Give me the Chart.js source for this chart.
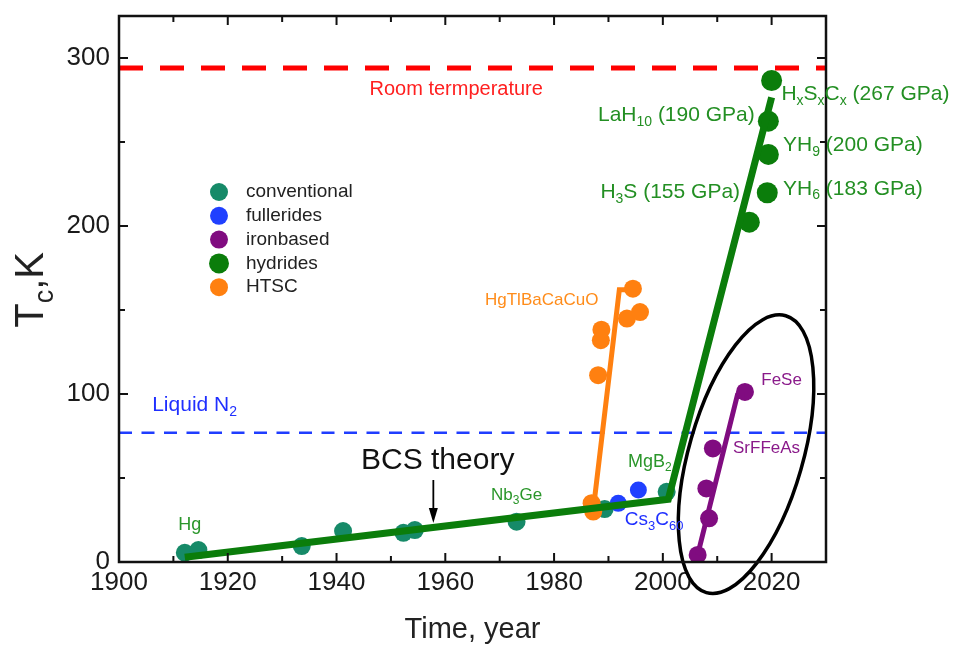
<!DOCTYPE html>
<html><head><meta charset="utf-8">
<script src="https://cdn.jsdelivr.net/npm/chart.js@4.4.1/dist/chart.umd.min.js"></script>
<style>html,body{margin:0;padding:0;background:#fff}#wrap{width:956px;height:648px}</style>
</head><body><div id="wrap"><canvas id="c" width="956" height="648"></canvas></div>
<script>
// ---------- data ----------
const xTickLabels = [1900, 1920, 1940, 1960, 1980, 2000, 2020];
const yTickLabels = [0, 100, 200, 300];
const seriesNames = ['conventional', 'fullerides', 'ironbased', 'hydrides', 'HTSC'];

const conventionalYears = [1912.1, 1914.6, 1933.6, 1941.2, 1952.3, 1954.4, 1973.1, 1989.3, 2000.7];
const conventionalTc    = [5.5, 7.1, 9.5, 18.4, 17.4, 19.0, 24.0, 31.5, 41.8];
const fulleridesYears   = [1991.8, 1995.5];
const fulleridesTc      = [34.9, 42.8];
const ironbasedYears    = [2006.4, 2008.5, 2008.0, 2009.2, 2015.1];
const ironbasedTc       = [4.2, 26.0, 43.8, 67.6, 101.2];
const hydridesYears     = [2015.9, 2019.2, 2019.4, 2019.4, 2020.0];
const hydridesTc        = [202.3, 219.8, 242.6, 262.4, 286.6];
const htscYears         = [1986.9, 1987.2, 1988.1, 1988.6, 1988.7, 1993.4, 1994.5, 1995.8];
const htscTc            = [35.0, 30.0, 111.2, 132.0, 138.3, 144.9, 162.7, 148.8];

const mainTrendYears = [1912.1, 2001.0, 2020.0];
const mainTrendTc    = [2.8, 37.3, 276.6];
const htscTrendYears = [1987.2, 1992.0, 1993.4];
const htscTrendTc    = [30.9, 162.1, 162.1];
const ironTrendYears = [2006.4, 2013.7, 2015.1];
const ironTrendTc    = [4.2, 99.3, 99.3];

const roomTemperatureK = 294;
const liquidN2K = 77;
const xRange = [1900, 2030];
const yRange = [0, 325];

// ---------- styling ----------
const FONT = '"Liberation Sans", Arial, Helvetica, sans-serif';
const COLORS = {
  conventional: '#168a68', fullerides: '#2040ff', ironbased: '#800c80',
  hydrides: '#0b7d0b', HTSC: '#ff8010'
};
const toPts = (xs, ys) => xs.map((x, i) => ({x: x, y: ys[i]}));

const annotations = [
  {text: 'Room termperature', year: 1962, tc: 281, align: 'center', color: '#ff2020', size: 20},
  {text: 'Liquid N_{2}', year: 1906.1, tc: 93.3, align: 'left', color: '#1f2fff', size: 21},
  {text: 'BCS theory', year: 1958.6, tc: 60, align: 'center', color: '#111', size: 30},
  {text: 'Hg', year: 1913, tc: 22, align: 'center', color: '#2a962a', size: 18},
  {text: 'Nb_{3}Ge', year: 1973.1, tc: 39.8, align: 'center', color: '#2a962a', size: 17},
  {text: 'MgB_{2}', year: 1993.6, tc: 59.5, align: 'left', color: '#2a962a', size: 18},
  {text: 'Cs_{3}C_{60}', year: 1993.0, tc: 25, align: 'left', color: '#1f2fff', size: 19},
  {text: 'HgTlBaCaCuO', year: 1967.3, tc: 155.8, align: 'left', color: '#ff8c1a', size: 17},
  {text: 'FeSe', year: 2018.1, tc: 108.2, align: 'left', color: '#8a1a8a', size: 17},
  {text: 'SrFFeAs', year: 2012.9, tc: 67.6, align: 'left', color: '#8a1a8a', size: 17},
  {text: 'H_{x}S_{x}C_{x} (267 GPa)', year: 2021.8, tc: 278.7, align: 'left', color: '#238f23', size: 21},
  {text: 'LaH_{10} (190 GPa)', year: 2016.9, tc: 265.8, align: 'right', color: '#238f23', size: 21},
  {text: 'YH_{9} (200 GPa)', year: 2022.1, tc: 247.9, align: 'left', color: '#238f23', size: 21},
  {text: 'YH_{6} (183 GPa)', year: 2022.1, tc: 222.2, align: 'left', color: '#238f23', size: 21},
  {text: 'H_{3}S (155 GPa)', year: 2014.2, tc: 220.2, align: 'right', color: '#238f23', size: 21}
];
const bcsArrow = {year: 1957.8, fromTc: 48.8, toTc: 23.2};
const ironEllipse = {year: 2015.3, tc: 64.2, rx: 57, ry: 144, rotDeg: 16};

// ---------- rich text ----------
function parseRich(s) {
  const parts = []; const re = /_\{([^}]*)\}/g; let last = 0, m;
  while ((m = re.exec(s))) {
    if (m.index > last) parts.push({t: s.slice(last, m.index), sub: false});
    parts.push({t: m[1], sub: true}); last = re.lastIndex;
  }
  if (last < s.length) parts.push({t: s.slice(last), sub: false});
  return parts;
}
function drawRich(ctx, s, x, y, size, color, align) {
  const parts = parseRich(s);
  const sub = Math.round(size * 0.68);
  let w = 0;
  parts.forEach(p => { ctx.font = (p.sub ? sub : size) + 'px ' + FONT; w += ctx.measureText(p.t).width; });
  let cx = align === 'center' ? x - w / 2 : align === 'right' ? x - w : x;
  ctx.save(); ctx.fillStyle = color; ctx.textBaseline = 'middle'; ctx.textAlign = 'left';
  parts.forEach(p => {
    ctx.font = (p.sub ? sub : size) + 'px ' + FONT;
    ctx.fillText(p.t, cx, y + (p.sub ? size * 0.33 : 0));
    cx += ctx.measureText(p.t).width;
  });
  ctx.restore();
}

// ---------- plugin for frame, ticks, labels, legend ----------
const decorPlugin = {
  id: 'decor',
  afterDatasetsDraw(chart) {
    const ctx = chart.ctx, xs = chart.scales.x, ys = chart.scales.y, a = chart.chartArea;
    ctx.save();
    // ellipse
    ctx.strokeStyle = '#000'; ctx.lineWidth = 3.5;
    ctx.beginPath();
    ctx.ellipse(xs.getPixelForValue(ironEllipse.year), ys.getPixelForValue(ironEllipse.tc),
      ironEllipse.rx, ironEllipse.ry, ironEllipse.rotDeg * Math.PI / 180, 0, Math.PI * 2);
    ctx.stroke();
    // frame
    ctx.strokeStyle = '#111'; ctx.lineWidth = 2.5;
    ctx.strokeRect(a.left, a.top, a.right - a.left, a.bottom - a.top);
    // ticks inward
    ctx.lineWidth = 2;
    for (let v = xRange[0]; v <= xRange[1]; v += 10) {
      const px = xs.getPixelForValue(v), L = xTickLabels.includes(v) ? 9 : 6;
      ctx.beginPath(); ctx.moveTo(px, a.bottom); ctx.lineTo(px, a.bottom - L);
      ctx.moveTo(px, a.top); ctx.lineTo(px, a.top + L); ctx.stroke();
    }
    for (let v = yRange[0]; v <= yRange[1]; v += 50) {
      const py = ys.getPixelForValue(v), L = yTickLabels.includes(v) ? 9 : 6;
      ctx.beginPath(); ctx.moveTo(a.left, py); ctx.lineTo(a.left + L, py);
      ctx.moveTo(a.right, py); ctx.lineTo(a.right - L, py); ctx.stroke();
    }
    // annotations
    annotations.forEach(an => drawRich(ctx, an.text, xs.getPixelForValue(an.year),
      ys.getPixelForValue(an.tc), an.size, an.color, an.align));
    // arrow
    const ax = xs.getPixelForValue(bcsArrow.year), ay1 = ys.getPixelForValue(bcsArrow.fromTc),
      ay2 = ys.getPixelForValue(bcsArrow.toTc);
    ctx.strokeStyle = '#000'; ctx.fillStyle = '#000'; ctx.lineWidth = 1.8;
    ctx.beginPath(); ctx.moveTo(ax, ay1); ctx.lineTo(ax, ay2 - 10); ctx.stroke();
    ctx.beginPath(); ctx.moveTo(ax, ay2); ctx.lineTo(ax - 4.5, ay2 - 15); ctx.lineTo(ax + 4.5, ay2 - 15);
    ctx.closePath(); ctx.fill();
    // legend
    const lx = a.left + 100, ly0 = a.top + 176, dy = 23.8;
    seriesNames.forEach((name, i) => {
      const y = ly0 + i * dy;
      ctx.fillStyle = COLORS[name];
      ctx.beginPath(); ctx.arc(lx, y, name === 'hydrides' ? 10 : 9, 0, Math.PI * 2); ctx.fill();
      ctx.fillStyle = '#222'; ctx.font = '19px ' + FONT; ctx.textBaseline = 'middle'; ctx.textAlign = 'left';
      ctx.fillText(name, lx + 27, y);
    });
    // axis titles
    ctx.save();
    ctx.translate(32, ys.getPixelForValue(162));
    ctx.rotate(-Math.PI / 2);
    drawRich(ctx, 'T_{c},K', 0, 0, 40, '#222', 'center');
    ctx.restore();
    drawRich(ctx, 'Time, year', (a.left + a.right) / 2 + 0, 630, 29, '#222', 'center');
    ctx.restore();
  }
};

const scatterDs = (name, xs, ys, r, order) => ({
  label: name, data: toPts(xs, ys), backgroundColor: COLORS[name], borderWidth: 0,
  pointRadius: r, pointHoverRadius: r, showLine: false, order: order
});
const lineDs = (label, xs, ys, color, w, dash, order) => ({
  type: 'line', label: label, data: toPts(xs, ys), borderColor: color, borderWidth: w,
  borderDash: dash, pointRadius: 0, fill: false, tension: 0, order: order, borderCapStyle: 'butt'
});
const zeroPad = s => { s.paddingTop = 0; s.paddingBottom = 0; s.paddingLeft = 0; s.paddingRight = 0; };

new Chart(document.getElementById('c'), {
  type: 'scatter',
  data: {
    datasets: [
      lineDs('room', xRange, [roomTemperatureK, roomTemperatureK], '#ff0000', 5, [24, 17], 20),
      lineDs('ln2', xRange, [liquidN2K, liquidN2K], '#1f3dff', 2.5, [13, 9.5], 20),
      scatterDs('conventional', conventionalYears, conventionalTc, 9, 10),
      scatterDs('fullerides', fulleridesYears, fulleridesTc, 8.5, 9),
      scatterDs('ironbased', ironbasedYears, ironbasedTc, 9, 8),
      scatterDs('hydrides', hydridesYears, hydridesTc, 10.5, 7),
      scatterDs('HTSC', htscYears, htscTc, 9, 6),
      lineDs('htscTrend', htscTrendYears, htscTrendTc, COLORS.HTSC, 5, [], 2),
      lineDs('mainTrend', mainTrendYears, mainTrendTc, COLORS.hydrides, 7, [], 1),
      lineDs('ironTrend', ironTrendYears, ironTrendTc, COLORS.ironbased, 5, [], 1)
    ]
  },
  options: {
    responsive: false, animation: false, devicePixelRatio: 1,
    layout: {padding: {left: 0, right: 130, top: 16, bottom: 0}},
    plugins: {legend: {display: false}, tooltip: {enabled: false}},
    scales: {
      x: {
        type: 'linear', min: xRange[0], max: xRange[1],
        grid: {display: false, drawTicks: false}, border: {display: false},
        ticks: {stepSize: 10, autoSkip: false, maxRotation: 0, padding: 5, color: '#1a1a1a',
          font: {family: FONT, size: 26},
          callback: v => xTickLabels.includes(v) ? String(v) : ''},
        afterFit: s => { s.height = 86; zeroPad(s); }
      },
      y: {
        type: 'linear', min: yRange[0], max: yRange[1],
        grid: {display: false, drawTicks: false}, border: {display: false},
        ticks: {stepSize: 50, autoSkip: false, padding: 9, color: '#1a1a1a',
          font: {family: FONT, size: 26},
          callback: v => yTickLabels.includes(v) ? String(v) : ''},
        afterFit: s => { s.width = 119; zeroPad(s); }
      }
    }
  },
  plugins: [decorPlugin]
});
</script></body></html>
